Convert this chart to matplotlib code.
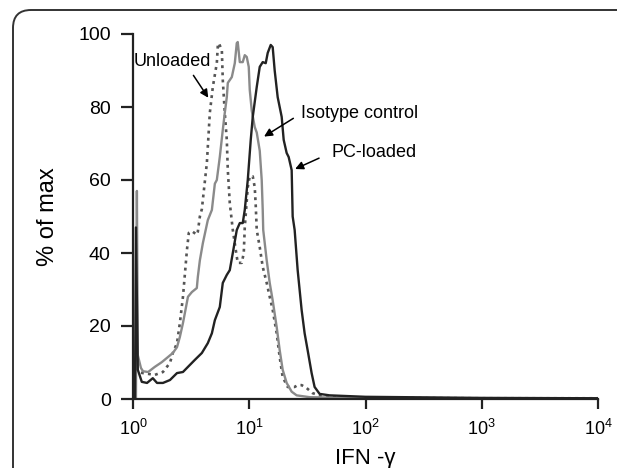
import matplotlib
matplotlib.use("Agg")
import matplotlib.pyplot as plt
from matplotlib.patches import PathPatch
from matplotlib.path import Path
from matplotlib.transforms import IdentityTransform

plt.rcParams["font.family"] = ["Liberation Sans", "DejaVu Sans"]
plt.rcParams["mathtext.fontset"] = "custom"
plt.rcParams["mathtext.rm"] = "Liberation Sans"
plt.rcParams["mathtext.it"] = "Liberation Sans"

# Histogramas (intensidade IFN-gamma, % do maximo)
isotipo_x = [1.06, 1.08, 1.10, 1.17, 1.22, 1.35, 1.54, 1.77, 2.00, 2.20, 2.39, 2.53,
             2.69, 2.97, 3.21, 3.54, 3.61, 3.76, 3.99, 4.40, 4.77, 5.06, 5.26, 5.58,
             5.92, 6.16, 6.41, 6.54, 7.08, 7.51, 7.81, 7.96, 8.29, 8.79, 9.15, 9.52,
             9.90, 10.10, 10.51, 11.15, 11.60, 12.31, 12.80, 13.06, 13.19, 14.13,
             15.00, 15.91, 17.22, 18.27, 19.39, 20.98, 23.17, 25.57, 33.06, 49.1,
             100, 1000, 10000]
isotipo_y = [0, 57, 12, 8.5, 7.6, 7.4, 8.8, 10.1, 11.5, 12.6, 14.2, 17,
             20.8, 28, 29.3, 30.4, 33.4, 38, 42.7, 49, 51.8, 59, 60, 66.3,
             73.7, 78.4, 82.7, 86.6, 88.2, 92, 97.5, 97.8, 92.3, 92.3, 94.2, 93.7,
             91, 84.7, 79, 74.5, 73, 68, 60, 51.8, 46.3, 38,
             31.8, 27, 19.7, 13.4, 8, 4.4, 2, 1, 0.5, 0.4,
             0.3, 0.2, 0.2]

descarregado_x = [1.17, 1.22, 1.54, 1.81, 2.08, 2.20, 2.39, 2.53, 2.69, 2.91, 3.02,
                  3.21, 3.54, 3.61, 3.76, 3.91, 4.32, 4.58, 4.86, 5.26, 5.37, 5.47,
                  5.81, 5.92, 6.16, 6.41, 6.54, 6.80, 7.22, 7.66, 7.96, 8.62, 8.97,
                  9.15, 9.71, 10.10, 10.72, 11.15, 11.37, 11.60, 12.31, 13.06, 14.13,
                  15.00, 15.91, 17.22, 18.27, 19.39, 21.40, 24.58, 26.09, 28.22,
                  31.16, 35.09, 40.29, 49.1, 100, 1000, 10000]
descarregado_y = [7.2, 7.1, 6.6, 7.4, 9.9, 12.6, 15.3, 20.8, 28, 40.8, 45.5,
                  46, 45, 45.8, 50, 52, 64.7, 78.4, 85.5, 92, 97, 97.5,
                  95.6, 87.4, 78.4, 71, 62.7, 53.7, 46.3, 40.8, 37.3, 37.3, 40,
                  47, 58, 61, 61, 58, 53, 46.3, 41.6, 36.2, 31.8,
                  28, 24.4, 18, 11.5, 6, 3.3, 3.3, 3.8, 3.8,
                  3, 1.6, 1, 0.5, 0.3, 0.2, 0.2]

pc_x = [1.04, 1.06, 1.10, 1.19, 1.32, 1.48, 1.61, 1.81, 2.08, 2.39, 2.69, 2.97,
        3.40, 3.91, 4.40, 4.77, 5.06, 5.58, 5.92, 6.41, 6.80, 7.22, 7.81, 8.29,
        8.79, 9.15, 9.71, 10.30, 10.72, 11.60, 12.31, 13.06, 13.86, 14.41, 15.30,
        15.91, 16.55, 17.56, 19.01, 19.78, 20.98, 21.83, 23.17, 23.63, 24.58,
        26.09, 28.22, 29.95, 31.78, 34.40, 36.49, 40.29, 49.1, 100, 1000, 10000]
pc_y = [0, 47, 8, 4.7, 4.4, 5.7, 4.4, 4.4, 5.2, 7.1, 7.4, 8.8,
        10.7, 12.6, 15.3, 18, 21.6, 25.2, 31.8, 34, 35.3, 40, 46.3, 48.2,
        48.2, 51.8, 60, 71, 77.3, 85.5, 91, 92.3, 92, 94.8, 97,
        96.4, 90, 82.7, 77.3, 71, 67.4, 66.3, 62.7, 50, 46.3,
        35.3, 24.4, 18, 13.4, 7.1, 3.3, 1.4, 1, 0.6, 0.3, 0.2]

fig = plt.figure(figsize=(6.17, 4.68), dpi=100)

# moldura com canto arredondado (so o canto superior esquerdo aparece)
r = 18
vertices = [(13, -20), (13, 458 - r), (13, 458), (13 + r, 458), (720, 458)]
codigos = [Path.MOVETO, Path.LINETO, Path.CURVE3, Path.CURVE3, Path.LINETO]
moldura = PathPatch(Path(vertices, codigos), transform=IdentityTransform(),
                    fill=False, edgecolor="#333333", linewidth=1.4)
fig.patches.append(moldura)

ax = fig.add_axes([133 / 617, 1 - 399 / 468, (598 - 133) / 617, (399 - 34) / 468])

ax.plot(descarregado_x, descarregado_y, color="#555555", lw=1.9,
        linestyle=(0, (1.1, 1.6)))
ax.plot(isotipo_x, isotipo_y, color="#8a8a8a", lw=1.7)
ax.plot(pc_x, pc_y, color="#222222", lw=1.7)

ax.set_xscale("log")
ax.set_xlim(1, 10000)
ax.set_ylim(0, 100)
ax.set_xticks([1, 10, 100, 1000, 10000])
ax.set_xticklabels([r"$10^{0}$", r"$10^{1}$", r"$10^{2}$", r"$10^{3}$", r"$10^{4}$"])
ax.minorticks_off()
ax.set_yticks([0, 20, 40, 60, 80, 100])

for lado in ["top", "right"]:
    ax.spines[lado].set_visible(False)
for lado in ["left", "bottom"]:
    ax.spines[lado].set_linewidth(1.6)
    ax.spines[lado].set_color("#222222")

ax.tick_params(axis="y", length=9, width=1.6, pad=7, labelsize=14, color="#222222")
ax.tick_params(axis="x", length=7, width=1.6, pad=7, labelsize=13, color="#222222")

ax.set_ylabel("% of max", fontsize=17, labelpad=14)
ax.set_xlabel("IFN -γ", fontsize=16, labelpad=7)

seta = dict(arrowstyle="-|>", color="black", lw=1.1, mutation_scale=12)
ax.annotate("", xy=(4.58, 81.9), xytext=(3.21, 89.3), arrowprops=seta)
ax.text(1.02, 92.6, "Unloaded", fontsize=13, va="center", ha="left")
ax.annotate("", xy=(12.8, 71.5), xytext=(25.1, 77.3), arrowprops=seta)
ax.text(27.7, 78.1, "Isotype control", fontsize=13, va="center", ha="left")
ax.annotate("", xy=(23.6, 62.7), xytext=(41.9, 66.3), arrowprops=seta)
ax.text(51.1, 67.4, "PC-loaded", fontsize=13, va="center", ha="left")

fig.savefig("out.png", dpi=100)
